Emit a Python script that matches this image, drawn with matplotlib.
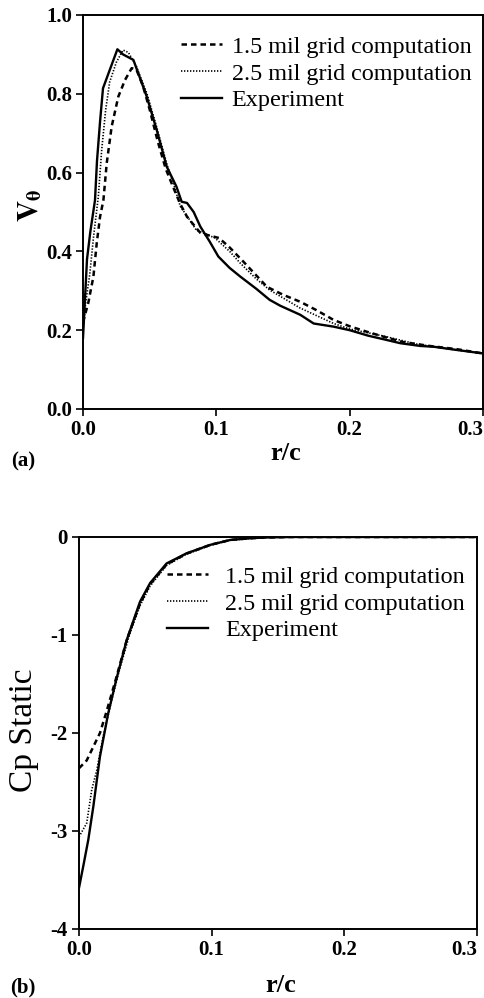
import matplotlib
matplotlib.use("Agg")
import matplotlib.pyplot as plt

plt.rcParams['font.family'] = ['Liberation Serif', 'DejaVu Serif']
plt.rcParams['mathtext.fontset'] = 'stix'

# ---------------- data: panel (a) tangential velocity ----------------
exp_a_r = [0.0, 0.0015, 0.003, 0.0055, 0.009, 0.0105, 0.0128, 0.015, 0.020, 0.0258,
           0.030, 0.0378, 0.0478, 0.0553, 0.0628, 0.070, 0.074, 0.078, 0.083, 0.088,
           0.095, 0.1015, 0.110, 0.118, 0.130, 0.140, 0.148, 0.163, 0.173, 0.188,
           0.200, 0.214, 0.228, 0.238, 0.253, 0.263, 0.280, 0.300]
exp_a_v = [0.18, 0.28, 0.38, 0.45, 0.53, 0.63, 0.73, 0.814, 0.86, 0.913,
           0.90, 0.886, 0.793, 0.708, 0.615, 0.565, 0.526, 0.523, 0.500, 0.463,
           0.425, 0.387, 0.358, 0.336, 0.305, 0.277, 0.262, 0.239, 0.217, 0.209,
           0.200, 0.186, 0.175, 0.167, 0.160, 0.158, 0.150, 0.141]

g15_a_r = [0.0, 0.004, 0.0078, 0.0103, 0.0128, 0.0153, 0.0178, 0.0215, 0.0265, 0.0315,
           0.0365, 0.040, 0.045, 0.050, 0.056, 0.062, 0.068, 0.073, 0.078, 0.088,
           0.095, 0.102, 0.110, 0.120, 0.138, 0.150, 0.163, 0.175, 0.188, 0.200,
           0.213, 0.225, 0.240, 0.260, 0.280, 0.300]
g15_a_v = [0.22, 0.27, 0.336, 0.421, 0.488, 0.53, 0.624, 0.717, 0.793, 0.835,
           0.865, 0.862, 0.82, 0.76, 0.68, 0.61, 0.56, 0.52, 0.488, 0.447,
           0.44, 0.434, 0.41, 0.375, 0.31, 0.29, 0.272, 0.251, 0.226, 0.21,
           0.196, 0.184, 0.170, 0.160, 0.152, 0.141]

g25_a_r = [0.0, 0.002, 0.005, 0.008, 0.0115, 0.014, 0.017, 0.020, 0.025, 0.030,
           0.034, 0.040, 0.048, 0.0553, 0.063, 0.068, 0.073, 0.080, 0.085, 0.090,
           0.099, 0.110, 0.118, 0.130, 0.140, 0.163, 0.188, 0.200, 0.223, 0.250,
           0.275, 0.300]
g25_a_v = [0.20, 0.27, 0.34, 0.44, 0.539, 0.657, 0.759, 0.83, 0.88, 0.911,
           0.905, 0.87, 0.80, 0.715, 0.62, 0.57, 0.514, 0.48, 0.454, 0.447,
           0.434, 0.40, 0.37, 0.33, 0.302, 0.256, 0.217, 0.203, 0.187, 0.165,
           0.152, 0.141]

# ---------------- data: panel (b) static pressure ----------------
exp_b_r = [0.0, 0.0032, 0.007, 0.0108, 0.0158, 0.022, 0.028, 0.036, 0.046, 0.0536,
           0.066, 0.081, 0.099, 0.114, 0.129, 0.140, 0.160, 0.200, 0.250, 0.300]
exp_b_cp = [-3.58, -3.36, -3.09, -2.75, -2.24, -1.80, -1.46, -1.05, -0.66, -0.47,
            -0.27, -0.167, -0.08, -0.03, -0.013, -0.005, 0.0, 0.0, 0.0, 0.0]

g15_b_r = [0.0, 0.0058, 0.0108, 0.0158, 0.021, 0.028, 0.036, 0.046, 0.0536,
           0.066, 0.081, 0.099, 0.114, 0.129, 0.140, 0.160, 0.200, 0.250, 0.300]
g15_b_cp = [-2.36, -2.28, -2.14, -2.0, -1.77, -1.44, -1.05, -0.68, -0.48,
            -0.28, -0.17, -0.08, -0.03, -0.013, -0.005, 0.0, 0.0, 0.0, 0.0]

g25_b_r = [0.0, 0.0058, 0.0096, 0.0134, 0.018, 0.024, 0.030, 0.038, 0.046, 0.0536,
           0.066, 0.081, 0.099, 0.114, 0.129, 0.140, 0.160, 0.200, 0.250, 0.300]
g25_b_cp = [-3.06, -2.92, -2.58, -2.38, -2.05, -1.70, -1.38, -1.0, -0.70, -0.50,
            -0.29, -0.175, -0.085, -0.033, -0.014, -0.005, 0.0, 0.0, 0.0, 0.0]

labels = ["1.5 mil grid computation", "2.5 mil grid computation", "Experiment"]
xticks = [0.0, 0.1, 0.2, 0.3]
xticklabels = ["0.0", "0.1", "0.2", "0.3"]
yticks_a = [0.0, 0.2, 0.4, 0.6, 0.8, 1.0]
yticklabels_a = ["0.0", "0.2", "0.4", "0.6", "0.8", "1.0"]
yticks_b = [-4, -3, -2, -1, 0]
yticklabels_b = ["-4", "-3", "-2", "-1", "0"]

W, H = 484, 998
fig = plt.figure(figsize=(W / 100, H / 100), dpi=100)

def fx(px):
    return px / W

def fy(py):
    return 1 - py / H

ax1 = fig.add_axes([fx(83), fy(409), fx(483) - fx(83), fy(15) - fy(409)])
ax2 = fig.add_axes([fx(79), fy(929), fx(477) - fx(79), fy(537) - fy(929)])

lw_sol = 1.7
for ax in (ax1, ax2):
    for s in ax.spines.values():
        s.set_linewidth(1.4)
    ax.tick_params(direction='out', length=5, width=1.2, pad=3)
    ax.set_xlim(0, 0.3)
    ax.set_xticks(xticks)
    ax.set_xticklabels(xticklabels, fontsize=15, fontweight='bold')
    ax.get_xticklabels()[-1].set_horizontalalignment('right')

l1, = ax1.plot(g15_a_r, g15_a_v, color='black', lw=1.8, ls=(0, (2.2, 1.6)))
l2, = ax1.plot(g25_a_r, g25_a_v, color='black', lw=1.2, ls=(0, (0.8, 1.0)))
l3, = ax1.plot(exp_a_r, exp_a_v, color='black', lw=lw_sol, ls='-')
ax1.set_ylim(0, 1.0)
ax1.set_yticks(yticks_a)
ax1.set_yticklabels(yticklabels_a, fontsize=15, fontweight='bold')

m1, = ax2.plot(g15_b_r, g15_b_cp, color='black', lw=1.8, ls=(0, (2.2, 1.6)))
m2, = ax2.plot(g25_b_r, g25_b_cp, color='black', lw=1.2, ls=(0, (0.8, 1.0)))
m3, = ax2.plot(exp_b_r, exp_b_cp, color='black', lw=lw_sol, ls='-')
ax2.set_ylim(-4, 0)
ax2.set_yticks(yticks_b)
ax2.set_yticklabels(yticklabels_b, fontsize=15, fontweight='bold')

leg_kw = dict(frameon=False, fontsize=17.4, handlelength=1.7,
              labelspacing=0.2, borderpad=0, borderaxespad=0, loc='upper left')
fig.legend([l1, l2, l3], labels, bbox_to_anchor=(fx(181), fy(36)),
           handletextpad=0.4, **leg_kw)
fig.legend([m1, m2, m3], labels, bbox_to_anchor=(fx(167), fy(566)),
           handletextpad=0.7, **leg_kw)

fig.text(fx(30), fy(205), r'$\mathbf{V}_{\mathbf{\theta}}$', fontsize=21,
         rotation=90, ha='center', va='center')
fig.text(fx(286), fy(453), 'r/c', fontsize=19, fontweight='bold', ha='center', va='center')
fig.text(fx(23), fy(461), '(a)', fontsize=15, fontweight='bold', ha='center', va='center')

fig.text(fx(24), fy(730), 'Cp Static', fontsize=24, rotation=90, ha='center', va='center')
fig.text(fx(281), fy(985), 'r/c', fontsize=19, fontweight='bold', ha='center', va='center')
fig.text(fx(23), fy(987), '(b)', fontsize=15, fontweight='bold', ha='center', va='center')

fig.savefig('out.png', dpi=100)
